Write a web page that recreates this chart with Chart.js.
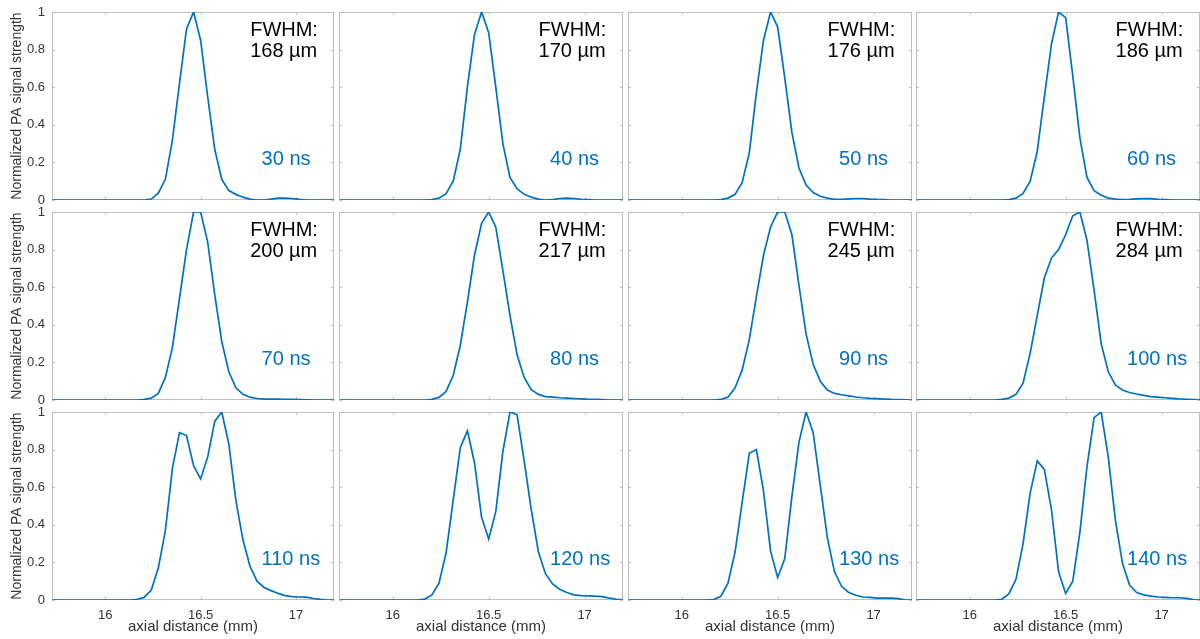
<!DOCTYPE html>
<html>
<head>
<meta charset="utf-8">
<script src="https://cdn.jsdelivr.net/npm/chart.js@4.4.1/dist/chart.umd.min.js"></script>
<style>
  html, body { margin: 0; padding: 0; background: #fff; }
  body { width: 1200px; height: 639px; position: relative; overflow: hidden; }
  canvas { position: absolute; }
</style>
</head>
<body>
<script>
// axial sample positions (mm)
const axialMm = [
  15.723, 15.76, 15.797, 15.834, 15.871, 15.908, 15.945, 15.982, 16.019, 16.056, 16.093, 16.13,
  16.167, 16.204, 16.241, 16.278, 16.315, 16.352, 16.389, 16.426, 16.463, 16.5,
  16.537, 16.574, 16.611, 16.648, 16.685, 16.722, 16.759, 16.796, 16.833, 16.87,
  16.907, 16.944, 16.981, 17.018, 17.055, 17.092, 17.129, 17.166, 17.203
];
const pulseNs = [30, 40, 50, 60, 70, 80, 90, 100, 110, 120, 130, 140];
const fwhmUm = [168, 170, 176, 186, 200, 217, 245, 284, null, null, null, null];
const xTicks = [16, 16.5, 17];
const yTicks = [0, 0.2, 0.4, 0.6, 0.8, 1];

// normalized PA signal, one array per pulse width
const sig30 = [0,0,0,0,0,0,0,0,0,0,0,0,
  0, 0, 0.005, 0.036, 0.11, 0.32, 0.62, 0.91, 1.0, 0.85, 0.55, 0.27, 0.11, 0.05, 0.03,
  0.015, 0.005, 0, 0, 0.005, 0.01, 0.01, 0.008, 0.003, 0, 0, 0, 0, 0];
const sig40 = [0,0,0,0,0,0,0,0,0,0,0,0,
  0, 0.002, 0.01, 0.034, 0.10, 0.27, 0.6, 0.88, 1.0, 0.89, 0.6, 0.30, 0.12, 0.06, 0.03,
  0.015, 0.005, 0, 0.002, 0.008, 0.01, 0.008, 0.004, 0.002, 0, 0, 0, 0, 0];
const sig50 = [0,0,0,0,0,0,0,0,0,0,0,0,
  0, 0.002, 0.01, 0.03, 0.094, 0.25, 0.57, 0.85, 1.0, 0.92, 0.65, 0.36, 0.17, 0.08, 0.04,
  0.02, 0.01, 0.003, 0.003, 0.006, 0.008, 0.008, 0.005, 0.003, 0.002, 0, 0, 0, 0];
const sig60 = [0,0,0,0,0,0,0,0,0,0,0,0,
  0, 0.002, 0.01, 0.035, 0.10, 0.26, 0.55, 0.83, 1.0, 0.97, 0.66, 0.33, 0.12, 0.05, 0.025,
  0.01, 0.005, 0.002, 0.003, 0.006, 0.008, 0.007, 0.004, 0.002, 0, 0, 0, 0, 0];
const sig70 = [0,0,0,0,0,0,0,0,0,0,0,0,
  0, 0.003, 0.01, 0.035, 0.12, 0.28, 0.54, 0.80, 1.0, 1.0, 0.84, 0.56, 0.31, 0.15, 0.065,
  0.03, 0.015, 0.008, 0.005, 0.005, 0.005, 0.004, 0.003, 0.002, 0.001, 0, 0, 0, 0];
const sig80 = [0,0,0,0,0,0,0,0,0,0,0,0,
  0, 0.003, 0.014, 0.046, 0.13, 0.29, 0.52, 0.77, 0.94, 1.0, 0.92, 0.69, 0.45, 0.24, 0.12,
  0.055, 0.03, 0.018, 0.015, 0.012, 0.01, 0.008, 0.006, 0.004, 0.003, 0.002, 0, 0, 0];
const sig90 = [0,0,0,0,0,0,0,0,0,0,0,0,
  0, 0.003, 0.015, 0.065, 0.16, 0.32, 0.55, 0.77, 0.92, 1.0, 1.0, 0.88, 0.61, 0.35, 0.19,
  0.10, 0.053, 0.035, 0.028, 0.022, 0.016, 0.012, 0.009, 0.007, 0.005, 0.003, 0.002, 0.001, 0];
const sig100 = [0,0,0,0,0,0,0,0,0,0,0,0,
  0.003, 0.01, 0.03, 0.09, 0.25, 0.45, 0.65, 0.755, 0.80, 0.88, 0.98, 1.0, 0.85, 0.585, 0.30,
  0.15, 0.08, 0.053, 0.04, 0.032, 0.025, 0.018, 0.015, 0.012, 0.009, 0.006, 0.004, 0.002, 0];
const sig110 = [0,0,0,0,0,0,0,0,0,0,0,0,
  0.004, 0.014, 0.053, 0.17, 0.37, 0.70, 0.89, 0.875, 0.715, 0.644, 0.76, 0.95, 1.0, 0.83, 0.53,
  0.32, 0.18, 0.10, 0.067, 0.05, 0.035, 0.023, 0.018, 0.016, 0.015, 0.008, 0.003, 0, 0];
const sig120 = [0,0,0,0,0,0,0,0,0,0,0,0,
  0.005, 0.027, 0.09, 0.25, 0.53, 0.81, 0.90, 0.73, 0.44, 0.325, 0.47, 0.79, 1.0, 0.985, 0.74,
  0.48, 0.257, 0.14, 0.085, 0.057, 0.04, 0.027, 0.023, 0.022, 0.021, 0.018, 0.01, 0.004, 0];
const sig130 = [0,0,0,0,0,0,0,0,0,0,0,0,
  0.002, 0.02, 0.09, 0.255, 0.52, 0.78, 0.80, 0.58, 0.26, 0.12, 0.22, 0.55, 0.84, 1.0, 0.89,
  0.61, 0.33, 0.15, 0.073, 0.04, 0.025, 0.016, 0.014, 0.01, 0.01, 0.01, 0.007, 0, 0];
const sig140 = [0,0,0,0,0,0,0,0,0,0,0,0,
  0.004, 0.032, 0.11, 0.30, 0.57, 0.74, 0.695, 0.48, 0.15, 0.035, 0.10, 0.36, 0.71, 0.97, 1.0,
  0.76, 0.425, 0.195, 0.08, 0.04, 0.027, 0.021, 0.016, 0.014, 0.012, 0.012, 0.009, 0.002, 0];
const signals = [sig30, sig40, sig50, sig60, sig70, sig80, sig90, sig100, sig110, sig120, sig130, sig140];

// grid layout in page pixels
const colLeft = [52, 339, 628, 916];
const colWidth = [282, 284, 284, 284];
const rowTop = [12, 212, 412];
const plotH = 188;

const FONT = '"Liberation Sans", Helvetica, Arial, sans-serif';
const LINE_BLUE = '#0072BD';
const BOX_GRAY = '#bdbdbd';
const TEXT_GRAY = '#333333';

function makePanel(i) {
  const row = Math.floor(i / 4), col = i % 4;
  const padL = col === 0 ? 52 : 4;
  const padB = row === 2 ? 39 : 10;
  const padT = 12, padR = 2;
  const w = padL + colWidth[col] + padR;
  const h = padT + plotH + padB;

  const cv = document.createElement('canvas');
  cv.width = w; cv.height = h;
  cv.style.width = w + 'px'; cv.style.height = h + 'px';
  cv.style.left = (colLeft[col] - padL) + 'px';
  cv.style.top = (rowTop[row] - padT) + 'px';
  document.body.appendChild(cv);

  // box + inward tick marks, like matlab axes
  const boxPlugin = {
    id: 'matlabBox',
    beforeDatasetsDraw(chart) {
      const {ctx, chartArea: a, scales} = chart;
      ctx.save();
      ctx.strokeStyle = BOX_GRAY;
      ctx.lineWidth = 1;
      ctx.strokeRect(a.left + 0.5, a.top + 0.5, a.right - a.left - 1, a.bottom - a.top - 1);
      ctx.beginPath();
      scales.x.ticks.forEach(t => {
        const px = Math.round(scales.x.getPixelForValue(t.value)) + 0.5;
        ctx.moveTo(px, a.bottom); ctx.lineTo(px, a.bottom - 3);
        ctx.moveTo(px, a.top); ctx.lineTo(px, a.top + 3);
      });
      scales.y.ticks.forEach(t => {
        const py = Math.round(scales.y.getPixelForValue(t.value)) + 0.5;
        ctx.moveTo(a.left, py); ctx.lineTo(a.left + 3, py);
        ctx.moveTo(a.right, py); ctx.lineTo(a.right - 3, py);
      });
      ctx.stroke();
      ctx.restore();
    },
    afterDraw(chart) {
      const {ctx, scales} = chart;
      ctx.save();
      ctx.font = '20px ' + FONT;
      ctx.textAlign = 'left';
      ctx.textBaseline = 'alphabetic';
      if (fwhmUm[i] !== null) {
        ctx.fillStyle = '#000';
        const fx = scales.x.getPixelForValue(16.76);
        ctx.fillText('FWHM:', fx, scales.y.getPixelForValue(0.87));
        ctx.fillText(fwhmUm[i] + ' µm', fx, scales.y.getPixelForValue(0.76));
      }
      ctx.fillStyle = LINE_BLUE;
      ctx.fillText(pulseNs[i] + ' ns', scales.x.getPixelForValue(16.82), scales.y.getPixelForValue(0.185));
      ctx.restore();
    }
  };

  new Chart(cv, {
    type: 'line',
    data: {
      datasets: [{
        data: axialMm.map((x, j) => ({x: x, y: signals[i][j]})),
        borderColor: LINE_BLUE,
        borderWidth: 1.7,
        pointRadius: 0,
        tension: 0,
        fill: false
      }]
    },
    options: {
      responsive: false,
      animation: false,
      devicePixelRatio: 1,
      layout: { padding: { top: padT, right: padR, left: 0, bottom: 0 } },
      plugins: { legend: { display: false }, tooltip: { enabled: false } },
      scales: {
        x: {
          type: 'linear', min: 15.72, max: 17.2,
          afterBuildTicks: s => { s.ticks = xTicks.map(v => ({value: v})); },
          afterFit: s => { s.height = padB; s.paddingLeft = 0; s.paddingRight = 0; },
          grid: { display: false, drawTicks: false },
          border: { display: false },
          ticks: {
            display: row === 2, padding: 8, maxRotation: 0, autoSkip: false,
            color: TEXT_GRAY, font: { family: FONT, size: 13 },
            callback: v => String(v)
          },
          title: {
            display: row === 2, text: 'axial distance (mm)', color: TEXT_GRAY,
            font: { family: FONT, size: 15 }, padding: { top: 0, bottom: 3 }
          }
        },
        y: {
          min: 0, max: 1,
          afterBuildTicks: s => { s.ticks = yTicks.map(v => ({value: v})); },
          // fixed width, and no extra room for the end labels
          afterFit: s => { s.width = padL; s.paddingTop = 0; s.paddingBottom = 0; },
          grid: { display: false, drawTicks: false },
          border: { display: false },
          ticks: {
            display: col === 0, padding: 7, autoSkip: false,
            color: TEXT_GRAY, font: { family: FONT, size: 13 },
            callback: v => String(v)
          },
          title: {
            display: col === 0, text: 'Normalized PA signal strength', color: TEXT_GRAY,
            font: { family: FONT, size: 14 }, padding: { top: 9, bottom: 0 }
          }
        }
      }
    },
    plugins: [boxPlugin]
  });
}

for (let i = 0; i < 12; i++) makePanel(i);
</script>
</body>
</html>
